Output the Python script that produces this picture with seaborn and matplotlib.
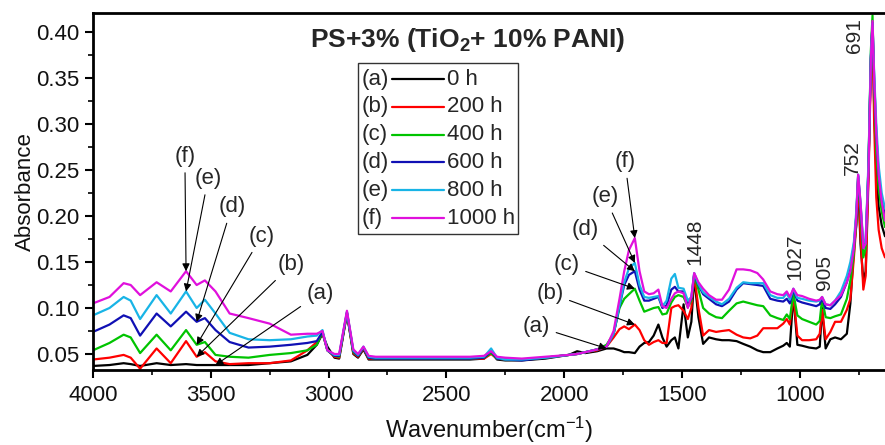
import numpy as np
import pandas as pd
import matplotlib
matplotlib.use('Agg')
import matplotlib.pyplot as plt
import seaborn as sns
from matplotlib.ticker import MultipleLocator, FormatStrFormatter

# ---- data ----
WAVENUMBER = [4000, 3930, 3870, 3840, 3800, 3730, 3670, 3605, 3560, 3525,
              3480, 3420, 3340, 3250, 3160, 3090, 3050, 3026, 3005, 2975,
              2955, 2922, 2895, 2875, 2852, 2830, 2800, 2700, 2600, 2500,
              2400, 2340, 2310, 2285, 2250, 2180, 2080, 1980, 1945, 1910,
              1860, 1820, 1790, 1765, 1745, 1725, 1700, 1680, 1660, 1640,
              1620, 1600, 1583, 1565, 1545, 1530, 1515, 1493, 1475, 1460,
              1448, 1430, 1410, 1385, 1355, 1330, 1300, 1268, 1240, 1210,
              1180, 1155, 1125, 1095, 1070, 1055, 1042, 1027, 1010, 990,
              960, 930, 915, 905, 890, 870, 850, 825, 800, 785,
              770, 760, 752, 742, 730, 720, 708, 698, 691, 684,
              675, 665, 652, 638]

abs_0h = [0.037, 0.038, 0.040, 0.039, 0.037, 0.040, 0.038, 0.039, 0.038, 0.038,
          0.038, 0.038, 0.038, 0.040, 0.042, 0.049, 0.060, 0.072, 0.058, 0.046,
          0.045, 0.094, 0.050, 0.046, 0.055, 0.044, 0.044, 0.044, 0.044, 0.044,
          0.044, 0.045, 0.052, 0.044, 0.043, 0.043, 0.045, 0.049, 0.053, 0.051,
          0.053, 0.056, 0.056, 0.054, 0.052, 0.052, 0.051, 0.058, 0.062, 0.063,
          0.070, 0.082, 0.068, 0.058, 0.065, 0.068, 0.056, 0.104, 0.068, 0.085,
          0.133, 0.090, 0.061, 0.068, 0.066, 0.065, 0.065, 0.064, 0.061, 0.058,
          0.054, 0.052, 0.052, 0.056, 0.059, 0.062, 0.058, 0.114, 0.060, 0.059,
          0.057, 0.056, 0.058, 0.100, 0.056, 0.066, 0.068, 0.066, 0.072, 0.105,
          0.165, 0.190, 0.238, 0.170, 0.130, 0.140, 0.250, 0.370, 0.410, 0.320,
          0.250, 0.210, 0.190, 0.178]

abs_200h = [0.044, 0.046, 0.049, 0.046, 0.034, 0.056, 0.040, 0.064, 0.047, 0.052,
            0.042, 0.039, 0.040, 0.040, 0.043, 0.054, 0.063, 0.073, 0.054, 0.047,
            0.046, 0.094, 0.051, 0.047, 0.056, 0.045, 0.045, 0.045, 0.045, 0.045,
            0.045, 0.045, 0.050, 0.045, 0.044, 0.044, 0.046, 0.049, 0.050, 0.052,
            0.054, 0.058, 0.068, 0.077, 0.080, 0.077, 0.082, 0.076, 0.065, 0.060,
            0.063, 0.065, 0.062, 0.062, 0.100, 0.102, 0.103, 0.097, 0.088, 0.100,
            0.136, 0.100, 0.070, 0.076, 0.074, 0.075, 0.076, 0.071, 0.068, 0.067,
            0.070, 0.078, 0.078, 0.078, 0.083, 0.088, 0.082, 0.114, 0.070, 0.065,
            0.065, 0.066, 0.072, 0.098, 0.066, 0.074, 0.085, 0.085, 0.098, 0.110,
            0.155, 0.190, 0.240, 0.180, 0.120, 0.135, 0.240, 0.360, 0.405, 0.300,
            0.220, 0.185, 0.165, 0.155]

abs_400h = [0.054, 0.062, 0.071, 0.068, 0.051, 0.071, 0.054, 0.076, 0.060, 0.063,
            0.049, 0.047, 0.046, 0.049, 0.051, 0.054, 0.060, 0.074, 0.054, 0.048,
            0.047, 0.095, 0.052, 0.048, 0.057, 0.046, 0.045, 0.045, 0.045, 0.045,
            0.045, 0.046, 0.051, 0.045, 0.044, 0.044, 0.046, 0.049, 0.050, 0.052,
            0.055, 0.060, 0.072, 0.100, 0.110, 0.115, 0.121, 0.108, 0.096, 0.098,
            0.100, 0.101, 0.093, 0.094, 0.106, 0.112, 0.114, 0.112, 0.101, 0.108,
            0.136, 0.120, 0.100, 0.094, 0.090, 0.089, 0.097, 0.105, 0.107, 0.105,
            0.103, 0.102, 0.092, 0.089, 0.087, 0.093, 0.088, 0.116, 0.092, 0.088,
            0.085, 0.082, 0.086, 0.110, 0.090, 0.089, 0.091, 0.093, 0.110, 0.130,
            0.160, 0.195, 0.243, 0.205, 0.155, 0.165, 0.255, 0.380, 0.418, 0.340,
            0.270, 0.230, 0.205, 0.188]

abs_600h = [0.074, 0.082, 0.092, 0.089, 0.070, 0.094, 0.080, 0.096, 0.085, 0.089,
            0.076, 0.063, 0.057, 0.058, 0.060, 0.062, 0.064, 0.074, 0.054, 0.048,
            0.048, 0.095, 0.053, 0.048, 0.057, 0.046, 0.045, 0.045, 0.045, 0.045,
            0.045, 0.046, 0.053, 0.045, 0.044, 0.043, 0.046, 0.049, 0.050, 0.052,
            0.055, 0.058, 0.072, 0.102, 0.125, 0.136, 0.140, 0.120, 0.108, 0.108,
            0.110, 0.112, 0.100, 0.103, 0.120, 0.123, 0.118, 0.118, 0.104, 0.110,
            0.137, 0.125, 0.115, 0.110, 0.104, 0.102, 0.107, 0.120, 0.127, 0.126,
            0.125, 0.124, 0.110, 0.108, 0.107, 0.110, 0.105, 0.120, 0.108, 0.106,
            0.104, 0.102, 0.104, 0.111, 0.100, 0.099, 0.104, 0.112, 0.128, 0.142,
            0.168, 0.200, 0.244, 0.212, 0.165, 0.172, 0.255, 0.372, 0.410, 0.350,
            0.290, 0.245, 0.218, 0.200]

abs_800h = [0.092, 0.100, 0.112, 0.108, 0.088, 0.114, 0.094, 0.118, 0.100, 0.109,
            0.094, 0.073, 0.066, 0.065, 0.066, 0.069, 0.070, 0.076, 0.054, 0.049,
            0.049, 0.096, 0.054, 0.049, 0.058, 0.047, 0.046, 0.046, 0.046, 0.046,
            0.046, 0.047, 0.056, 0.046, 0.044, 0.044, 0.046, 0.049, 0.050, 0.052,
            0.055, 0.058, 0.072, 0.103, 0.128, 0.143, 0.149, 0.125, 0.112, 0.111,
            0.112, 0.113, 0.102, 0.108, 0.132, 0.137, 0.122, 0.121, 0.108, 0.112,
            0.138, 0.126, 0.117, 0.112, 0.107, 0.104, 0.110, 0.122, 0.128, 0.127,
            0.127, 0.127, 0.114, 0.111, 0.111, 0.116, 0.109, 0.121, 0.111, 0.110,
            0.108, 0.107, 0.108, 0.112, 0.104, 0.103, 0.108, 0.118, 0.135, 0.150,
            0.172, 0.205, 0.245, 0.215, 0.170, 0.175, 0.260, 0.375, 0.410, 0.355,
            0.300, 0.255, 0.225, 0.208]

abs_1000h = [0.105, 0.112, 0.127, 0.125, 0.114, 0.128, 0.118, 0.140, 0.125, 0.130,
             0.118, 0.094, 0.089, 0.083, 0.071, 0.072, 0.072, 0.075, 0.054, 0.050,
             0.050, 0.097, 0.055, 0.050, 0.058, 0.048, 0.047, 0.047, 0.047, 0.047,
             0.047, 0.048, 0.053, 0.047, 0.046, 0.045, 0.047, 0.049, 0.050, 0.052,
             0.055, 0.058, 0.075, 0.110, 0.140, 0.163, 0.176, 0.140, 0.118, 0.115,
             0.116, 0.120, 0.102, 0.100, 0.110, 0.116, 0.118, 0.116, 0.100, 0.112,
             0.138, 0.128, 0.121, 0.114, 0.109, 0.109, 0.120, 0.142, 0.142, 0.141,
             0.138, 0.131, 0.118, 0.115, 0.114, 0.118, 0.112, 0.121, 0.114, 0.113,
             0.110, 0.108, 0.109, 0.112, 0.104, 0.103, 0.108, 0.114, 0.128, 0.140,
             0.165, 0.200, 0.245, 0.215, 0.165, 0.170, 0.250, 0.370, 0.412, 0.350,
             0.290, 0.245, 0.215, 0.195]

TIMES   = ['0 h', '200 h', '400 h', '600 h', '800 h', '1000 h']
LETTERS = ['(a)', '(b)', '(c)', '(d)', '(e)', '(f)']
COLORS  = ['#000000', '#ff0000', '#00c400', '#1010b4', '#18b4e6', '#e010dc']
SERIES  = [abs_0h, abs_200h, abs_400h, abs_600h, abs_800h, abs_1000h]

# arrows: wavenumber the head points at, and where the letter sits
LEFT_HEAD  = [3480, 3560, 3560, 3560, 3605, 3605]
LEFT_TEXT  = [(3037, 0.116), (3157, 0.147), (3284, 0.178),
              (3411, 0.210), (3511, 0.241), (3610, 0.265)]
RIGHT_HEAD = [1820, 1700, 1700, 1700, 1700, 1700]
RIGHT_TEXT = [(2117, 0.080), (2060, 0.116), (1989, 0.147),
              (1912, 0.185), (1827, 0.221), (1742, 0.259)]

PEAK_LABELS = ['1448', '1027', '905', '752', '691']
PEAK_POS    = [(1445, 0.147), (1020, 0.130), (893, 0.120), (778, 0.245), (766, 0.377)]

# ---- style ----
sns.set_style('ticks')
plt.rcParams['font.family'] = ['Liberation Sans', 'DejaVu Sans']
plt.rcParams['mathtext.fontset'] = 'custom'
plt.rcParams['mathtext.rm'] = 'Liberation Sans'
plt.rcParams['mathtext.bf'] = 'Liberation Sans:bold'
plt.rcParams['mathtext.default'] = 'regular'

frames = []
for t, vals in zip(TIMES, SERIES):
    frames.append(pd.DataFrame({'wavenumber': WAVENUMBER, 'absorbance': vals, 'time': t}))
df = pd.concat(frames, ignore_index=True)

fig = plt.figure(figsize=(8.85, 4.45), dpi=100)
ax = fig.add_axes([93 / 885, 75 / 445, 792 / 885, 357 / 445])

sns.lineplot(data=df, x='wavenumber', y='absorbance', hue='time', hue_order=TIMES,
             palette=COLORS, estimator=None, sort=False, lw=1.6, legend=False, ax=ax)

ax.set_xlim(4000, 638)
ax.set_ylim(0.0326, 0.4207)
ax.xaxis.set_major_locator(MultipleLocator(500))
ax.xaxis.set_minor_locator(MultipleLocator(250))
ax.yaxis.set_major_locator(MultipleLocator(0.05))
ax.yaxis.set_minor_locator(MultipleLocator(0.025))
ax.yaxis.set_major_formatter(FormatStrFormatter('%.2f'))
ax.tick_params(which='major', direction='out', length=6, width=1.5,
               labelsize=16, color='black', labelcolor='#111111')
ax.tick_params(axis='x', which='major', pad=5)
ax.tick_params(which='minor', direction='out', length=3.5, width=1.2, color='black')
for side in ['left', 'bottom', 'top']:
    ax.spines[side].set_linewidth(2)
    ax.spines[side].set_color('black')
ax.spines['right'].set_visible(False)

ax.set_xlabel('Wavenumber(cm$^{-1}$)', fontsize=17, color='#111111', labelpad=6)
ax.set_ylabel('Absorbance', fontsize=16, color='#111111', labelpad=0.5)

ax.text(0.473, 0.905, 'PS+3% (TiO$_\\mathbf{2}$+ 10% PANI)', transform=ax.transAxes,
        ha='center', va='baseline', fontsize=19, fontweight='bold')

# legend drawn by hand: "(a) ---- 0 h"
box = plt.Rectangle((0.3346, 0.381), 0.202, 0.479, transform=ax.transAxes,
                    fill=False, lw=1.0, ec='#333333')
ax.add_patch(box)
for i, (let, t, c) in enumerate(zip(LETTERS, TIMES, COLORS)):
    yy = 0.815 - i * 0.0779
    ax.text(0.3395, yy, let, transform=ax.transAxes, ha='left', va='center', fontsize=16)
    ax.plot([0.3775, 0.443], [yy, yy], transform=ax.transAxes, color=c, lw=1.6)
    ax.text(0.4465, yy, t, transform=ax.transAxes, ha='left', va='center', fontsize=16)

arrow = dict(arrowstyle='-|>', color='black', lw=0.8, mutation_scale=11, shrinkA=2, shrinkB=0)
for i, let in enumerate(LETTERS):
    vals = SERIES[i]
    for heads, texts in [(LEFT_HEAD, LEFT_TEXT), (RIGHT_HEAD, RIGHT_TEXT)]:
        w = heads[i]
        y = vals[WAVENUMBER.index(w)]
        ax.annotate(let, xy=(w, y), xytext=texts[i], ha='center', va='center',
                    fontsize=16, arrowprops=arrow)

for lab, (w, y) in zip(PEAK_LABELS, PEAK_POS):
    ax.text(w, y, lab, rotation=90, ha='center', va='bottom', fontsize=15)

plt.savefig('out.png', dpi=100)
